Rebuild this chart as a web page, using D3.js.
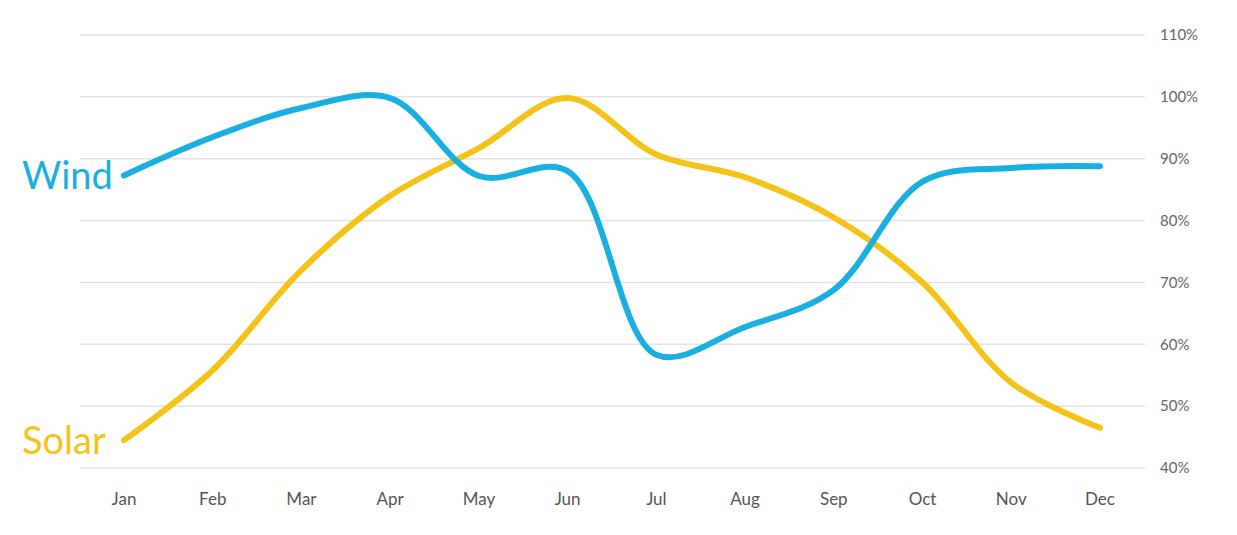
<!DOCTYPE html>
<html>
<head>
<meta charset="utf-8">
<script src="https://cdn.jsdelivr.net/npm/d3@7"></script>
<style>
  body { margin: 0; background: #fff; }
  text { font-family: Lato, 'Open Sans', sans-serif; }
</style>
</head>
<body>
<svg id="chart" width="1237" height="535"></svg>
<script>
const months = ['Jan', 'Feb', 'Mar', 'Apr', 'May', 'Jun', 'Jul', 'Aug', 'Sep', 'Oct', 'Nov', 'Dec']
const wind = [87.3, 93.5, 98.2, 99.8, 87.2, 88, 58.3, 62.8, 68.8, 86.3, 88.5, 88.8]
const solar = [44.5, 55.8, 72, 84, 91.7, 99.8, 90.7, 87, 80.5, 70, 53.8, 46.5]
const yTicks = [40, 50, 60, 70, 80, 90, 100, 110]

const svg = d3.select('#chart')

const x = d3.scalePoint()
  .domain(months)
  .range([124, 1100])

const y = d3.scaleLinear()
  .domain([40, 110])
  .range([468, 35])

// grid
svg.append('g')
  .selectAll('line')
  .data(yTicks)
  .enter().append('line')
  .attr('x1', 80)
  .attr('x2', 1145)
  .attr('y1', d => y(d))
  .attr('y2', d => y(d))
  .style('stroke', '#e3e3e3')
  .style('stroke-width', 1.5)

// right axis labels
svg.append('g')
  .selectAll('text')
  .data(yTicks)
  .enter().append('text')
  .attr('x', 1160)
  .attr('y', d => y(d))
  .attr('dy', '0.35em')
  .style('font-size', '15px')
  .style('fill', '#666')
  .text(d => d + '%')

// month labels
svg.append('g')
  .selectAll('text')
  .data(months)
  .enter().append('text')
  .attr('x', d => x(d))
  .attr('y', 505)
  .style('text-anchor', 'middle')
  .style('font-size', '17px')
  .style('fill', '#555')
  .text(d => d)

const lineGen = d3.line()
  .x((d, i) => x(months[i]))
  .y(d => y(d))
  .curve(d3.curveCatmullRom.alpha(0.5))

const series = [
  { name: 'Solar', values: solar, color: '#f5c218' },
  { name: 'Wind', values: wind, color: '#1aafe1' },
]

series.forEach(s => {
  svg.append('path')
    .datum(s.values)
    .attr('d', lineGen)
    .style('fill', 'none')
    .style('stroke', s.color)
    .style('stroke-width', 6)
    .style('stroke-linecap', 'round')

  svg.append('text')
    .attr('x', 22)
    .attr('y', y(s.values[0]) + 14)
    .style('font-size', '38px')
    .style('fill', s.color)
    .text(s.name)
})
</script>
</body>
</html>
